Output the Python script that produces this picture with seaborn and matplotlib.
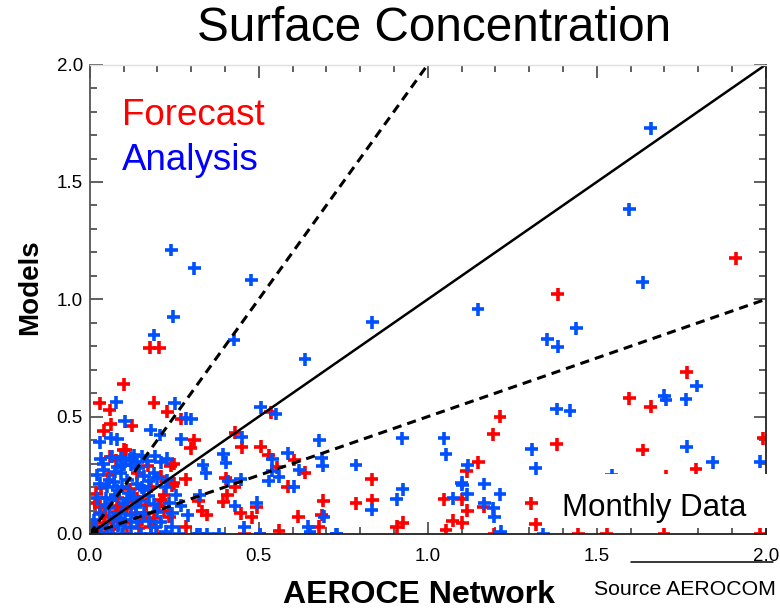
import numpy as np
import pandas as pd
import matplotlib
matplotlib.use("Agg")
import matplotlib.pyplot as plt
import seaborn as sns
from matplotlib.ticker import MultipleLocator
from matplotlib.patches import Rectangle
from matplotlib.lines import Line2D

# Monthly surface concentration, (AEROCE network, model) pairs
forecast = [
    (0.178, 0.794), (0.206, 0.794), (0.101, 0.638), (1.911, 1.175), (1.385, 1.021),
    (1.766, 0.689), (1.596, 0.578), (1.660, 0.542), (1.382, 0.383), (1.636, 0.358),
    (1.794, 0.277), (1.993, 0.408), (1.705, 0.247), (1.445, 0.0), (1.530, 0.0),
    (1.699, 0.0), (1.983, 0.0),
    (1.214, 0.500), (1.194, 0.425), (1.307, 0.131), (1.320, 0.041), (0.834, 0.233),
    (0.836, 0.145), (0.788, 0.131), (0.926, 0.048), (0.908, 0.031), (1.150, 0.305),
    (1.115, 0.268), (1.048, 0.148), (1.101, 0.148), (1.166, 0.116), (1.117, 0.099),
    (1.074, 0.057), (1.102, 0.048), (1.054, 0.017), (1.196, 0.0),
    (0.536, 0.518), (0.430, 0.432), (0.450, 0.369), (0.506, 0.372), (0.530, 0.337),
    (0.605, 0.315), (0.553, 0.284), (0.637, 0.261), (0.402, 0.237), (0.430, 0.202),
    (0.586, 0.202), (0.323, 0.142), (0.407, 0.166), (0.395, 0.138), (0.494, 0.114),
    (0.691, 0.142), (0.333, 0.098), (0.346, 0.081), (0.447, 0.088), (0.479, 0.071),
    (0.617, 0.074), (0.686, 0.081), (0.560, 0.014), (0.678, 0.031), (0.457, 0.0),
    (0.504, 0.0),
    (0.030, 0.557), (0.059, 0.528), (0.190, 0.559), (0.230, 0.521), (0.271, 0.490),
    (0.062, 0.467), (0.124, 0.461), (0.042, 0.440), (0.309, 0.400), (0.299, 0.365),
    (0.107, 0.358), (0.077, 0.315), (0.172, 0.290), (0.240, 0.290), (0.249, 0.298),
    (0.141, 0.259), (0.284, 0.233), (0.249, 0.216), (0.034, 0.195), (0.030, 0.116),
    (0.032, 0.088), (0.082, 0.152), (0.111, 0.109), (0.077, 0.095), (0.136, 0.088),
    (0.141, 0.152), (0.166, 0.124), (0.166, 0.088), (0.220, 0.099), (0.190, 0.067),
    (0.235, 0.074), (0.220, 0.166), (0.210, 0.145), (0.284, 0.031), (0.042, 0.046),
    (0.003, 0.031), (0.067, 0.052), (0.101, 0.046), (0.146, 0.024), (0.180, 0.031),
    (0.244, 0.205), (0.212, 0.244), (0.055, 0.250), (0.020, 0.170), (0.090, 0.060),
    (0.120, 0.190), (0.180, 0.200), (0.050, 0.0), (0.110, 0.0), (0.200, 0.0),
    (0.060, 0.330), (0.100, 0.360), (0.015, 0.130), (0.045, 0.075), (0.070, 0.020),
    (0.125, 0.140), (0.155, 0.060), (0.205, 0.120), (0.025, 0.010), (0.085, 0.120),
]

analysis = [
    (0.241, 1.210), (0.309, 1.132), (0.478, 1.082), (0.247, 0.926), (0.190, 0.848),
    (0.427, 0.827), (0.637, 0.744), (1.660, 1.729), (1.596, 1.383), (0.836, 0.902),
    (1.149, 0.957), (1.439, 0.876), (1.354, 0.830), (1.385, 0.798), (1.636, 1.072),
    (1.796, 0.631), (1.700, 0.589), (1.705, 0.571), (1.764, 0.574), (1.421, 0.525),
    (1.382, 0.533), (1.766, 0.372), (1.843, 0.305), (1.983, 0.308), (1.544, 0.251),
    (0.925, 0.408), (1.048, 0.408), (1.054, 0.340), (1.308, 0.361), (1.320, 0.280),
    (0.788, 0.294), (0.834, 0.102), (0.926, 0.190), (0.908, 0.148), (1.118, 0.294),
    (1.101, 0.219), (1.102, 0.209), (1.167, 0.213), (1.117, 0.170), (1.214, 0.170),
    (1.076, 0.152), (1.167, 0.131), (1.194, 0.109), (1.197, 0.074), (1.216, 0.010),
    (0.729, 0.0), (1.342, 0.0),
    (0.506, 0.540), (0.550, 0.511), (0.450, 0.412), (0.679, 0.400), (0.395, 0.340),
    (0.403, 0.304), (0.540, 0.318), (0.586, 0.344), (0.686, 0.323), (0.689, 0.290),
    (0.540, 0.270), (0.619, 0.273), (0.560, 0.244), (0.530, 0.226), (0.335, 0.294),
    (0.344, 0.259), (0.410, 0.226), (0.447, 0.233), (0.604, 0.202), (0.325, 0.166),
    (0.494, 0.133), (0.430, 0.119), (0.693, 0.074), (0.457, 0.029), (0.647, 0.031),
    (0.652, 0.010), (0.325, 0.0), (0.348, 0.0), (0.383, 0.0), (0.504, 0.0), (0.731, 0.0),
    (0.079, 0.561), (0.252, 0.557), (0.284, 0.493), (0.301, 0.490), (0.104, 0.481),
    (0.180, 0.443), (0.208, 0.422), (0.062, 0.408), (0.082, 0.403), (0.030, 0.391),
    (0.271, 0.403), (0.033, 0.320), (0.067, 0.329), (0.092, 0.327), (0.121, 0.323),
    (0.131, 0.337), (0.156, 0.332), (0.192, 0.332), (0.230, 0.320), (0.022, 0.251),
    (0.042, 0.273), (0.082, 0.287), (0.101, 0.294), (0.121, 0.294), (0.141, 0.308),
    (0.092, 0.259), (0.111, 0.230), (0.161, 0.247), (0.190, 0.259), (0.200, 0.237),
    (0.230, 0.230), (0.225, 0.199), (0.254, 0.166), (0.156, 0.199), (0.161, 0.187),
    (0.052, 0.202), (0.072, 0.223), (0.082, 0.187), (0.096, 0.202), (0.022, 0.152),
    (0.047, 0.152), (0.062, 0.145), (0.101, 0.131), (0.057, 0.109), (0.092, 0.088),
    (0.121, 0.081), (0.136, 0.116), (0.131, 0.159), (0.190, 0.128), (0.200, 0.095),
    (0.244, 0.088), (0.244, 0.031), (0.013, 0.060), (0.121, 0.031), (0.195, 0.031),
    (0.210, 0.052), (0.225, 0.010), (0.003, 0.0), (0.033, 0.0), (0.062, 0.0),
    (0.096, 0.0), (0.151, 0.0), (0.180, 0.0), (0.264, 0.0), (0.318, 0.0),
    (0.040, 0.300), (0.058, 0.232), (0.075, 0.265), (0.105, 0.310), (0.145, 0.282),
    (0.170, 0.310), (0.210, 0.305), (0.030, 0.215), (0.115, 0.175), (0.140, 0.215),
    (0.175, 0.225), (0.045, 0.125), (0.075, 0.165), (0.110, 0.150), (0.150, 0.140),
    (0.175, 0.160), (0.030, 0.085), (0.070, 0.070), (0.105, 0.060), (0.160, 0.090),
    (0.140, 0.050), (0.175, 0.055), (0.018, 0.030), (0.050, 0.025), (0.085, 0.035),
    (0.235, 0.130), (0.270, 0.120), (0.290, 0.080),
]

x_ticks = [0.0, 0.5, 1.0, 1.5, 2.0]
y_ticks = [0.0, 0.5, 1.0, 1.5, 2.0]
tick_labels = ["0.0", "0.5", "1.0", "1.5", "2.0"]

sns.set_style("ticks")
plt.rcParams['font.family'] = ['Liberation Sans', 'DejaVu Sans']
plt.rcParams['text.color'] = 'black'
plt.rcParams['xtick.labelcolor'] = 'black'
plt.rcParams['ytick.labelcolor'] = 'black'

fx, fy = zip(*forecast)
axx, axy = zip(*analysis)
df = pd.DataFrame({
    'obs': list(fx) + list(axx),
    'model': list(fy) + list(axy),
    'run': ['Forecast'] * len(fx) + ['Analysis'] * len(axx),
})

fig = plt.figure(figsize=(7.8, 6.1), dpi=100)
ax = fig.add_axes([0.115, 0.1246, 0.8667, 0.7694])

# reference lines 1:1, 2:1, 1:2
ax.plot([0, 2], [0, 2], color='black', lw=1.8, zorder=2)
ax.plot([0, 1], [0, 2], color='black', lw=2.2, dashes=(3, 2), zorder=2)
ax.plot([0, 2], [0, 1], color='black', lw=2.2, dashes=(3, 2), zorder=2)

sns.scatterplot(data=df, x='obs', y='model', hue='run',
                palette={'Forecast': '#ff0000', 'Analysis': '#0050ff'},
                marker='+', s=85, linewidth=2.6, legend=False, ax=ax, zorder=1)

ax.set_xlim(0, 2)
ax.set_ylim(0, 2)
ax.set_xlabel('')
ax.set_ylabel('')
ax.set_xticks(x_ticks)
ax.set_xticklabels(tick_labels)
ax.set_yticks(y_ticks)
ax.set_yticklabels(tick_labels)
ax.xaxis.set_minor_locator(MultipleLocator(0.1))
ax.yaxis.set_minor_locator(MultipleLocator(0.1))
ax.tick_params(which='both', direction='in', top=True, right=True, color='#444444', width=1.2)
ax.tick_params(which='major', length=9, labelsize=13.5)
ax.tick_params(axis='x', which='major', pad=10)
ax.tick_params(axis='y', which='major', pad=5)
ax.tick_params(which='minor', length=5)

for side in ['left', 'bottom', 'right']:
    ax.spines[side].set_color('#222222')
    ax.spines[side].set_linewidth(1.3)
ax.spines['left'].set_color('#555555')
ax.spines['top'].set_color('#e0e0e0')
ax.spines['top'].set_linewidth(1.0)

ax.text(0.048, 0.871, 'Forecast', color='#ff0000', fontsize=26.5, transform=ax.transAxes, va='baseline')
ax.text(0.048, 0.775, 'Analysis', color='#0000ff', fontsize=26.5, transform=ax.transAxes, va='baseline')

# white patch behind the label in the corner
ax.add_patch(Rectangle((0.6735, 0.013), 0.34, 0.115, transform=ax.transAxes,
                       facecolor='white', edgecolor='none', zorder=3, clip_on=False))
ax.text(0.698, 0.038, 'Monthly Data', fontsize=22.5, color='black', transform=ax.transAxes,
        va='baseline', zorder=4)

fig.text(0.556, 0.954, 'Surface Concentration', fontsize=34.3, color='black', ha='center', va='center')
fig.text(0.537, 0.024, 'AEROCE Network', fontsize=23, fontweight='bold', color='black',
         ha='center', va='center')
fig.text(0.038, 0.53, 'Models', fontsize=20, fontweight='bold', color='black', rotation=90,
         ha='center', va='center')
fig.text(0.995, 0.0246, 'Source AEROCOM', fontsize=15.3, color='black', ha='right', va='baseline')
fig.add_artist(Line2D([631 / 780, 773 / 780], [1 - 562 / 610, 1 - 562 / 610],
                      color='black', lw=1.1))

fig.savefig('out.png', dpi=100)
